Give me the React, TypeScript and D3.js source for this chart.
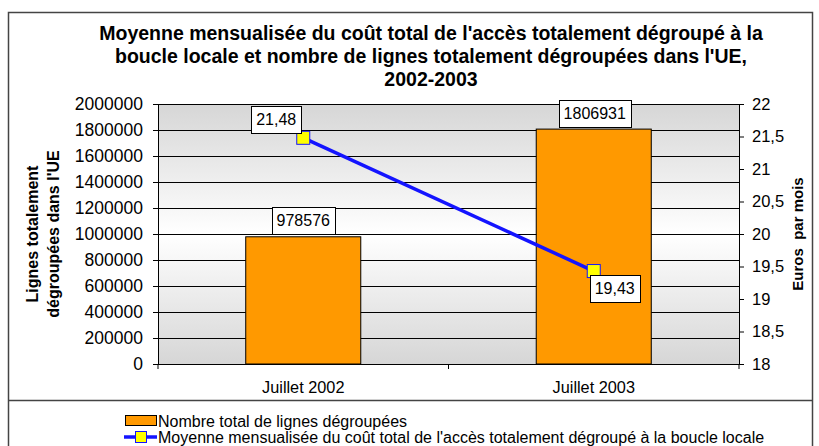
// Dependencies
import React, { useRef, useEffect } from "react";
import * as d3 from "d3";

// Data
const categories = ["Juillet 2002", "Juillet 2003"];
const lineCounts = [978576, 1806931];
const monthlyCost = [21.48, 19.43];
const costLabels = ["21,48", "19,43"];
const leftTicks = [0, 200000, 400000, 600000, 800000, 1000000, 1200000, 1400000, 1600000, 1800000, 2000000];
const rightTicks = [18, 18.5, 19, 19.5, 20, 20.5, 21, 21.5, 22];
const titleLines = [
  "Moyenne mensualisée du coût total de l'accès totalement dégroupé à la",
  "boucle locale et nombre de lignes totalement dégroupées dans l'UE,",
  "2002-2003",
];
const legendLabels = [
  "Nombre total de lignes dégroupées",
  "Moyenne mensualisée du coût total de l'accès totalement dégroupé à la boucle locale",
];

const W = 819;
const H = 446;

const App: React.FC = () => {
  const chartRef = useRef<SVGSVGElement | null>(null);

  useEffect(() => {
    if (!chartRef.current) return;
    const root = d3.select(chartRef.current);
    root.selectAll("*").remove();

    const font = "Liberation Sans, Arial, sans-serif";
    const plot = { left: 158, right: 739, top: 104, bottom: 364 };

    // Scales
    const xScale = d3
      .scaleBand()
      .domain(categories)
      .range([plot.left, plot.right])
      .padding(0);
    const yLeft = d3.scaleLinear().domain([0, 2000000]).range([plot.bottom, plot.top]);
    const yRight = d3.scaleLinear().domain([18, 22]).range([plot.bottom, plot.top]);
    const barW = xScale.bandwidth() * 0.396;
    const cx = (c: string) => xScale(c)! + xScale.bandwidth() / 2;

    // Gradient for plot background
    const defs = root.append("defs");
    const grad = defs
      .append("linearGradient")
      .attr("id", "plotbg")
      .attr("x1", 0)
      .attr("y1", 0)
      .attr("x2", 0)
      .attr("y2", 1);
    grad.append("stop").attr("offset", "0%").attr("stop-color", "#d6d6d6");
    grad.append("stop").attr("offset", "50%").attr("stop-color", "#ffffff");
    grad.append("stop").attr("offset", "100%").attr("stop-color", "#d6d6d6");

    // Outer frame
    root
      .append("rect")
      .attr("x", 8.5)
      .attr("y", 12.5)
      .attr("width", 804)
      .attr("height", 450)
      .attr("fill", "white")
      .attr("stroke", "#444")
      .attr("stroke-width", 1.5);

    // Title
    root
      .append("g")
      .selectAll("text")
      .data(titleLines)
      .join("text")
      .attr("x", 431)
      .attr("y", (_d, i) => 40 + i * 23)
      .attr("text-anchor", "middle")
      .attr("font-family", font)
      .attr("font-weight", "bold")
      .attr("font-size", 19.5)
      .text((d) => d);

    // Plot background
    root
      .append("rect")
      .attr("x", plot.left)
      .attr("y", plot.top)
      .attr("width", plot.right - plot.left)
      .attr("height", plot.bottom - plot.top)
      .attr("fill", "url(#plotbg)");

    // Gridlines
    root
      .append("g")
      .selectAll("line")
      .data(leftTicks)
      .join("line")
      .attr("x1", plot.left)
      .attr("x2", plot.right)
      .attr("y1", (d) => Math.round(yLeft(d)) + 0.5)
      .attr("y2", (d) => Math.round(yLeft(d)) + 0.5)
      .attr("stroke", "black")
      .attr("stroke-width", 1);

    // Bars
    root
      .append("g")
      .selectAll("rect")
      .data(categories)
      .join("rect")
      .attr("x", (d) => cx(d) - barW / 2)
      .attr("y", (_d, i) => yLeft(lineCounts[i]))
      .attr("width", barW)
      .attr("height", (_d, i) => plot.bottom - yLeft(lineCounts[i]))
      .attr("fill", "#ff9900")
      .attr("stroke", "black")
      .attr("stroke-width", 1);

    // Axes
    const styleAxis = (g: any, size: number) => {
      g.select(".domain").attr("stroke", "black");
      g.selectAll(".tick line").attr("stroke", "black");
      g.selectAll(".tick text")
        .attr("font-family", font)
        .attr("font-size", size)
        .attr("fill", "black");
    };
    root
      .append("g")
      .attr("transform", `translate(${plot.left},0)`)
      .call(d3.axisLeft(yLeft).tickValues(leftTicks).tickSize(5).tickSizeOuter(0).tickPadding(10).tickFormat((d) => String(d)))
      .call(styleAxis, 17.5);
    root
      .append("g")
      .attr("transform", `translate(${plot.right},0)`)
      .call(
        d3
          .axisRight(yRight)
          .tickValues(rightTicks)
          .tickSize(5)
          .tickSizeOuter(0)
          .tickPadding(8)
          .tickFormat((d) => String(d).replace(".", ","))
      )
      .call(styleAxis, 16.5);
    const xAxis = root
      .append("g")
      .attr("transform", `translate(0,${plot.bottom})`)
      .call(d3.axisBottom(xScale).tickSize(0).tickSizeOuter(0).tickPadding(17));
    styleAxis(xAxis, 16.3);
    // x ticks between categories
    xAxis
      .append("g")
      .selectAll("line")
      .data([plot.left, xScale(categories[1])!, plot.right])
      .join("line")
      .attr("x1", (d) => d)
      .attr("x2", (d) => d)
      .attr("y1", 0)
      .attr("y2", 5)
      .attr("stroke", "black");

    // Axis titles
    const leftTitle = root
      .append("text")
      .attr("transform", `translate(38,${(plot.top + plot.bottom) / 2}) rotate(-90)`)
      .attr("text-anchor", "middle")
      .attr("font-family", font)
      .attr("font-weight", "bold")
      .attr("font-size", 16);
    leftTitle.append("tspan").attr("x", 0).attr("dy", 0).text("Lignes totalement");
    leftTitle.append("tspan").attr("x", 0).attr("dy", 21).text("dégroupées dans l'UE");
    root
      .append("text")
      .attr("transform", `translate(803,${(plot.top + plot.bottom) / 2}) rotate(-90)`)
      .attr("text-anchor", "middle")
      .attr("font-family", font)
      .attr("font-weight", "bold")
      .attr("font-size", 15)
      .attr("xml:space", "preserve")
      .text("Euros  par mois");

    // Line series
    const line = d3
      .line<number>()
      .x((_d, i) => cx(categories[i]))
      .y((d) => yRight(d));
    root
      .append("path")
      .datum(monthlyCost)
      .attr("d", line)
      .attr("fill", "none")
      .attr("stroke", "#1414ff")
      .attr("stroke-width", 3.5);
    root
      .append("g")
      .selectAll("rect")
      .data(monthlyCost)
      .join("rect")
      .attr("x", (_d, i) => cx(categories[i]) - 6.5)
      .attr("y", (d) => yRight(d) - 6.5)
      .attr("width", 13)
      .attr("height", 13)
      .attr("fill", "#ffff00")
      .attr("stroke", "#1414ff")
      .attr("stroke-width", 1);

    // Data label boxes
    const labelBox = (text: string, x: number, y: number) => {
      const g = root.append("g");
      const t = g
        .append("text")
        .attr("x", x)
        .attr("y", y)
        .attr("text-anchor", "middle")
        .attr("dominant-baseline", "central")
        .attr("font-family", font)
        .attr("font-size", 16)
        .text(text);
      const w = (t.node() as SVGTextElement).getComputedTextLength() + 10;
      g.insert("rect", "text")
        .attr("x", Math.round(x - w / 2) + 0.5)
        .attr("y", Math.round(y - 13.5) + 0.5)
        .attr("width", Math.round(w))
        .attr("height", 27)
        .attr("fill", "white")
        .attr("stroke", "black");
    };
    labelBox(String(lineCounts[0]), cx(categories[0]), yLeft(lineCounts[0]) - 16);
    labelBox(String(lineCounts[1]), cx(categories[1]) + 1, yLeft(lineCounts[1]) - 16);
    labelBox(costLabels[0], cx(categories[0]) - 27, yRight(monthlyCost[0]) - 18.5);
    labelBox(costLabels[1], cx(categories[1]) + 21, yRight(monthlyCost[1]) + 17.5);

    // Legend
    root
      .append("line")
      .attr("x1", 8)
      .attr("x2", 812)
      .attr("y1", 400.5)
      .attr("y2", 400.5)
      .attr("stroke", "#444")
      .attr("stroke-width", 1.5);
    root
      .append("rect")
      .attr("x", 125.5)
      .attr("y", 415.5)
      .attr("width", 31)
      .attr("height", 10)
      .attr("fill", "#ff9900")
      .attr("stroke", "black");
    root
      .append("line")
      .attr("x1", 124)
      .attr("x2", 157)
      .attr("y1", 437)
      .attr("y2", 437)
      .attr("stroke", "#1414ff")
      .attr("stroke-width", 3.5);
    root
      .append("rect")
      .attr("x", 135.5)
      .attr("y", 431.5)
      .attr("width", 11)
      .attr("height", 11)
      .attr("fill", "#ffff00")
      .attr("stroke", "#1414ff");
    root
      .append("g")
      .selectAll("text")
      .data(legendLabels)
      .join("text")
      .attr("x", 158)
      .attr("y", (_d, i) => 421 + i * 16.5)
      .attr("dominant-baseline", "central")
      .attr("font-family", font)
      .attr("font-size", 16)
      .text((d) => d);
  }, []);

  return (
    <svg
      ref={chartRef}
      width={W}
      height={H}
      style={{ position: "absolute", left: 0, top: 0, background: "white" }}
    />
  );
};

export default App;
